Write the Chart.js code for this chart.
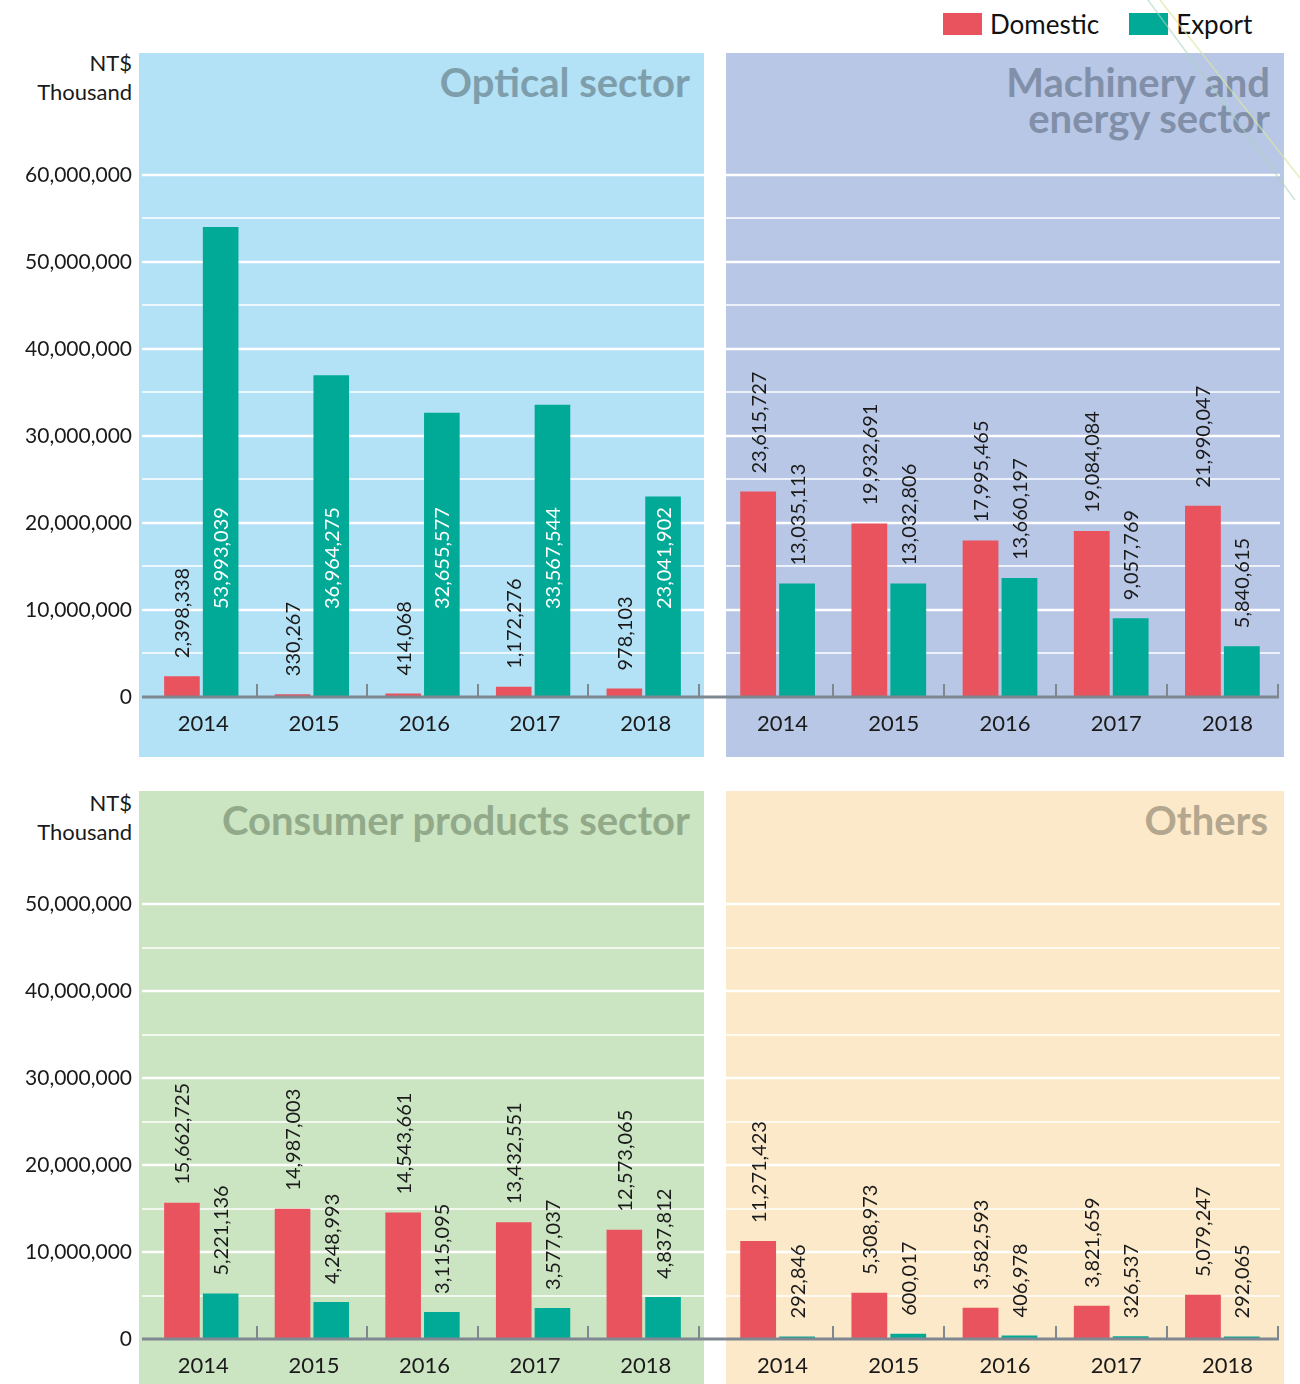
<!DOCTYPE html>
<html>
<head>
<meta charset="utf-8">
<script src="https://cdn.jsdelivr.net/npm/chart.js@4.4.0/dist/chart.umd.min.js"></script>
<style>
  body { margin: 0; background: #fff; width: 1300px; height: 1384px; position: relative; overflow: hidden; font-family: Lato, sans-serif; }
  .bg { position: absolute; }
  .wrap { position: absolute; }
  .title { position: absolute; text-align: right; font-weight: 700; font-size: 40px; line-height: 36px; white-space: nowrap; }
  .unit { position: absolute; right: 1168px; text-align: right; font-size: 22px; line-height: 29px; color: #1a1a1a; }
  .legend { position: absolute; top: 0; left: 943px; height: 48px; display: flex; align-items: center; font-size: 26px; color: #111; }
  .legend span.sw { display: inline-block; width: 39px; height: 22px; margin-right: 8px; }
  .legend span.txt { margin-right: 30px; }
</style>
</head>
<body>
<!-- panel backgrounds -->
<div class="bg" style="left:139px;top:53px;width:565px;height:704px;background:#b3e1f6"></div>
<div class="bg" style="left:726px;top:53px;width:558px;height:704px;background:#b8c7e5"></div>
<div class="bg" style="left:139px;top:791px;width:565px;height:593px;background:#cbe4c2"></div>
<div class="bg" style="left:726px;top:791px;width:558px;height:593px;background:#fce9c9"></div>

<div class="title" style="right:610px;top:64px;color:#7f9eab">Optical sector</div>
<div class="title" style="right:30px;top:64px;color:#8190a8">Machinery and<br>energy sector</div>
<div class="title" style="right:610px;top:802px;color:#92a98a">Consumer products sector</div>
<div class="title" style="right:32px;top:802px;color:#b3a78f">Others</div>

<div class="unit" style="top:48px">NT$<br>Thousand</div>
<div class="unit" style="top:788px">NT$<br>Thousand</div>

<div class="legend">
  <span class="sw" style="background:#e9535e"></span><span class="txt">Domestic</span>
  <span class="sw" style="background:#00aa96"></span><span>Export</span>
</div>

<div class="wrap" style="left:0;top:53px"><canvas id="optical" width="704" height="704"></canvas></div>
<div class="wrap" style="left:704px;top:53px"><canvas id="machinery" width="596" height="704"></canvas></div>
<div class="wrap" style="left:0;top:791px"><canvas id="consumer" width="704" height="593"></canvas></div>
<div class="wrap" style="left:704px;top:791px"><canvas id="others" width="596" height="593"></canvas></div>

<svg style="position:absolute;left:1100px;top:0" width="200" height="200">
  <line x1="48" y1="0" x2="195" y2="200" stroke="#a9d4bc" stroke-width="1.5" opacity="0.6"/>
  <line x1="60" y1="0" x2="200" y2="178" stroke="#dbe6a0" stroke-width="1.5" opacity="0.7"/>
</svg>

<script>
// --- DATA ---
const years = ['2014', '2015', '2016', '2017', '2018'];

const opticalDomestic = [2398338, 330267, 414068, 1172276, 978103];
const opticalExport = [53993039, 36964275, 32655577, 33567544, 23041902];

const machineryDomestic = [23615727, 19932691, 17995465, 19084084, 21990047];
const machineryExport = [13035113, 13032806, 13660197, 9057769, 5840615];

const consumerDomestic = [15662725, 14987003, 14543661, 13432551, 12573065];
const consumerExport = [5221136, 4248993, 3115095, 3577037, 4837812];

const othersDomestic = [11271423, 5308973, 3582593, 3821659, 5079247];
const othersExport = [292846, 600017, 406978, 326537, 292065];

const topTicks = [0, 10000000, 20000000, 30000000, 40000000, 50000000, 60000000];
const bottomTicks = [0, 10000000, 20000000, 30000000, 40000000, 50000000];
const minorStep = 5000000;

const RED = '#e9535e';
const TEAL = '#00aa96';
const fmt = v => v.toLocaleString('en-US');

Chart.defaults.font.family = 'Lato';
Chart.defaults.color = '#1a1a1a';

// gridlines, baseline, tick marks and rotated value labels
const panelDecor = {
    id: 'panelDecor',
    beforeDatasetsDraw(chart, args, opts) {
        const ctx = chart.ctx;
        const y = chart.scales.y;
        const last = opts.ticks[opts.ticks.length - 1];
        const from = opts.side === 'left' ? 142 : 19;
        const to = opts.side === 'left' ? chart.width : chart.chartArea.right + 2;
        ctx.save();
        ctx.strokeStyle = '#ffffff';
        for (let v = minorStep; v <= last; v += minorStep) {
            const py = Math.round(y.getPixelForValue(v));
            ctx.lineWidth = opts.ticks.includes(v) ? 2.6 : 1.3;
            ctx.beginPath();
            ctx.moveTo(from, py);
            ctx.lineTo(to, py);
            ctx.stroke();
        }
        ctx.restore();
    },
    afterDatasetsDraw(chart, args, opts) {
        const ctx = chart.ctx;
        const x = chart.scales.x;
        const y = chart.scales.y;
        const y0 = y.getPixelForValue(0);
        ctx.save();
        // baseline
        ctx.strokeStyle = '#7f8791';
        ctx.lineWidth = 3;
        ctx.beginPath();
        if (opts.side === 'left') { ctx.moveTo(x.left - 4, y0); ctx.lineTo(chart.width, y0); }
        else { ctx.moveTo(0, y0); ctx.lineTo(x.right + 1, y0); }
        ctx.stroke();
        // tick marks between categories
        const n = chart.data.labels.length;
        const w = (x.right - x.left) / n;
        ctx.lineWidth = 2;
        for (let i = 1; i <= n; i++) {
            const px = Math.round(x.left + i * w);
            ctx.beginPath();
            ctx.moveTo(px, y0);
            ctx.lineTo(px, y0 - 13);
            ctx.stroke();
        }
        // value labels
        ctx.font = '20px Lato';
        ctx.textAlign = 'left';
        ctx.textBaseline = 'middle';
        chart.data.datasets.forEach((ds, di) => {
            chart.getDatasetMeta(di).data.forEach((bar, i) => {
                const inside = opts.insideExport && di === 1;
                const ay = inside ? y0 - 88 : bar.y - 18;
                ctx.fillStyle = inside ? '#ffffff' : '#1a1a1a';
                ctx.save();
                ctx.translate(bar.x + 1, ay);
                ctx.rotate(-Math.PI / 2);
                ctx.fillText(fmt(ds.data[i]), 0, 0);
                ctx.restore();
            });
        });
        ctx.restore();
    }
};

function makeChart(id, domestic, exportData, cfg) {
    const isLeft = cfg.side === 'left';
    return new Chart(document.getElementById(id), {
        type: 'bar',
        data: {
            labels: years,
            datasets: [
                { label: 'Domestic', data: domestic, backgroundColor: RED },
                { label: 'Export', data: exportData, backgroundColor: TEAL }
            ]
        },
        options: {
            responsive: false,
            animation: false,
            categoryPercentage: 0.7,
            barPercentage: 0.92,
            layout: { padding: { left: isLeft ? 0 : 18, right: isLeft ? 5 : 22, top: 0, bottom: 0 } },
            plugins: {
                legend: { display: false },
                tooltip: { enabled: false },
                panelDecor: { side: cfg.side, ticks: cfg.ticks, insideExport: !!cfg.insideExport }
            },
            scales: {
                x: {
                    grid: { display: false, drawTicks: false },
                    border: { display: false },
                    ticks: { font: { size: 22 }, color: '#1a1a1a', padding: 14, labelOffset: isLeft ? 2 : 5 },
                    afterFit: s => { s.height = cfg.xHeight; s.paddingLeft = 0; s.paddingRight = 0; }
                },
                y: {
                    display: isLeft,
                    min: 0,
                    max: cfg.max,
                    grid: { display: false, drawTicks: false },
                    border: { display: false },
                    ticks: { font: { size: 21 }, color: '#1a1a1a', padding: 14, callback: v => fmt(v) },
                    afterBuildTicks: s => { s.ticks = cfg.ticks.map(v => ({ value: v })); },
                    afterFit: s => {
                        s.width = isLeft ? 146 : 0;
                        s.paddingTop = 0;
                        s.paddingBottom = 0;
                    }
                }
            }
        },
        plugins: [panelDecor]
    });
}

makeChart('optical', opticalDomestic, opticalExport, { side: 'left', ticks: topTicks, max: 74000000, xHeight: 60, insideExport: true });
makeChart('machinery', machineryDomestic, machineryExport, { side: 'right', ticks: topTicks, max: 74000000, xHeight: 60 });
makeChart('consumer', consumerDomestic, consumerExport, { side: 'left', ticks: bottomTicks, max: 63000000, xHeight: 45 });
makeChart('others', othersDomestic, othersExport, { side: 'right', ticks: bottomTicks, max: 63000000, xHeight: 45 });
</script>
</body>
</html>
